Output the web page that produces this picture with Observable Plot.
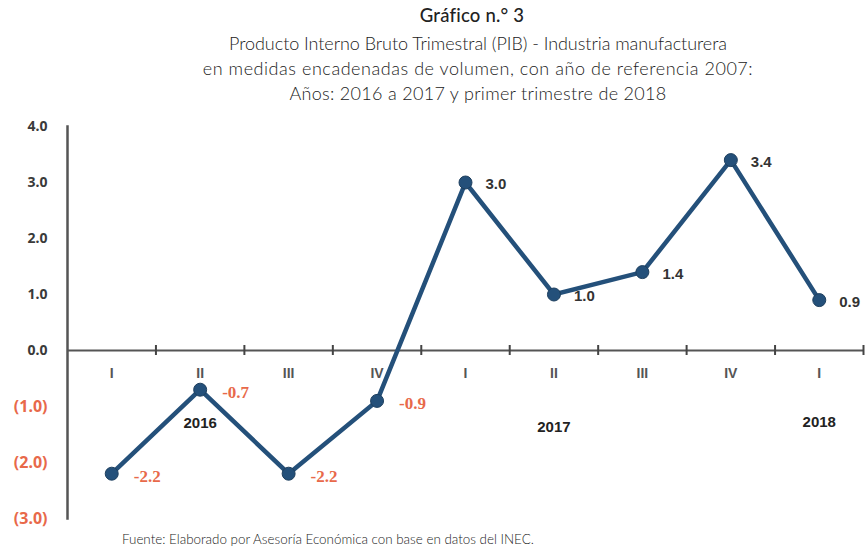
<!DOCTYPE html>
<html>
<head>
<meta charset="utf-8">
<script src="https://cdn.jsdelivr.net/npm/d3@7"></script>
<script src="https://cdn.jsdelivr.net/npm/@observablehq/plot@0.6"></script>
<style>
  html, body { margin: 0; padding: 0; background: #fff; }
  #wrap { width: 868px; height: 550px; position: relative; overflow: hidden; }
  .title { position: absolute; left: 0; width: 868px; text-align: center; font-family: "Lato", "Open Sans", sans-serif; color: #222; }
  #t1 { top: 4px; left: 38px; font-size: 18.5px; font-weight: 500; letter-spacing: 0.2px; }
  #t2 { top: 32px; left: 44px; font-size: 18px; font-weight: 300; letter-spacing: -0.05px; }
  #t3 { top: 57px; left: 44px; font-size: 18px; font-weight: 300; letter-spacing: 0.55px; }
  #t4 { top: 82px; left: 44px; font-size: 18px; font-weight: 300; letter-spacing: 0.3px; }
  #chart { position: absolute; top: 108px; left: 0; }
  #cap { position: absolute; top: 531px; left: 122px; font-family: "Lato", "Open Sans", sans-serif; font-size: 13.4px; color: #222; font-weight: 300; letter-spacing: 0px; }
</style>
</head>
<body>
<div id="wrap">
  <div class="title" id="t1">Gráfico n.° 3</div>
  <div class="title" id="t2">Producto Interno Bruto Trimestral (PIB) - Industria manufacturera</div>
  <div class="title" id="t3">en medidas encadenadas de volumen, con año de referencia 2007:</div>
  <div class="title" id="t4">Años: 2016 a 2017 y primer trimestre de 2018</div>
  <div id="chart"></div>
  <div id="cap">Fuente: Elaborado por Asesoría Económica con base en datos del INEC.</div>
</div>
<script>
// Data
const quarters = ["I", "II", "III", "IV", "I", "II", "III", "IV", "I"];
const years    = ["2016", "2016", "2016", "2016", "2017", "2017", "2017", "2017", "2018"];
const values   = [-2.2, -0.7, -2.2, -0.9, 3.0, 1.0, 1.4, 3.4, 0.9];
const yearLabels = ["2016", "2017", "2018"];
const yearLabelQuarterIndex = [1, 5, 8];
const yTicks = [4, 3, 2, 1, 0, -1, -2, -3];

const data = values.map((v, i) => ({i, q: quarters[i], year: years[i], v}));
const boundaries = d3.range(quarters.length).map(i => i + 0.5);
const yearData = yearLabels.map((y, k) => ({year: y, i: yearLabelQuarterIndex[k]}));
const yearDy = {"2016": 73, "2017": 77, "2018": 72};

const NEG = "#e8694a";
const AX = "#3a3a3a";
const LINE = "#24507a";

const fmtY = v => v < 0 ? `(${Math.abs(v).toFixed(1)})` : v.toFixed(1);

const yearMarks = yearData.map(d => Plot.text([d], {
  x: "i", y: 0, text: "year", dy: yearDy[d.year],
  fill: "#222", fontFamily: "Liberation Sans, sans-serif", fontWeight: "bold", fontSize: 15
}));

const chart = Plot.plot({
  width: 868,
  height: 420,
  marginLeft: 67,
  marginRight: 5,
  marginTop: 18,
  marginBottom: 10,
  style: {background: "transparent"},
  x: {domain: [-0.5, quarters.length - 0.5], axis: null},
  y: {domain: [-3, 4], axis: null},
  marks: [
    Plot.frame({anchor: "left", stroke: "#555", strokeWidth: 2.5}),
    Plot.ruleY([0], {stroke: "#555", strokeWidth: 2}),
    Plot.ruleX(boundaries, {x: d => d, y1: 0, y2: 0, insetTop: -5, insetBottom: -5, stroke: "#444", strokeWidth: 2}),
    // y tick labels
    Plot.text(yTicks, {
      x: -0.5, y: d => d, text: fmtY, dx: -20, textAnchor: "end",
      fill: d => d < 0 ? NEG : AX,
      fontFamily: d => d < 0 ? "Liberation Serif, serif" : "Liberation Sans, sans-serif",
      fontWeight: "bold", fontSize: d => d < 0 ? 16 : 14
    }),
    // quarter labels
    Plot.text(data, {x: "i", y: 0, text: "q", dy: 23, fill: "#555", fontFamily: "Liberation Sans Narrow, Liberation Sans, sans-serif", fontWeight: "bold", fontSize: 14}),
    ...yearMarks,
    Plot.line(data, {x: "i", y: "v", stroke: LINE, strokeWidth: 4.5, strokeLinejoin: "miter", strokeMiterlimit: 10}),
    Plot.dot(data, {x: "i", y: "v", r: 6.5, fill: LINE, stroke: "#1e3f5e", strokeWidth: 1}),
    // value labels
    Plot.text(data.filter(d => d.v >= 0), {x: "i", y: "v", text: d => d.v.toFixed(1), dx: 20, dy: 2, textAnchor: "start", fill: "#333", fontFamily: "Liberation Sans, sans-serif", fontWeight: "bold", fontSize: 15}),
    Plot.text(data.filter(d => d.v < 0), {x: "i", y: "v", text: d => d.v.toFixed(1), dx: 22, dy: 3, textAnchor: "start", fill: NEG, fontFamily: "Liberation Serif, serif", fontWeight: "bold", fontSize: 17})
  ]
});
document.getElementById("chart").appendChild(chart);
</script>
</body>
</html>
